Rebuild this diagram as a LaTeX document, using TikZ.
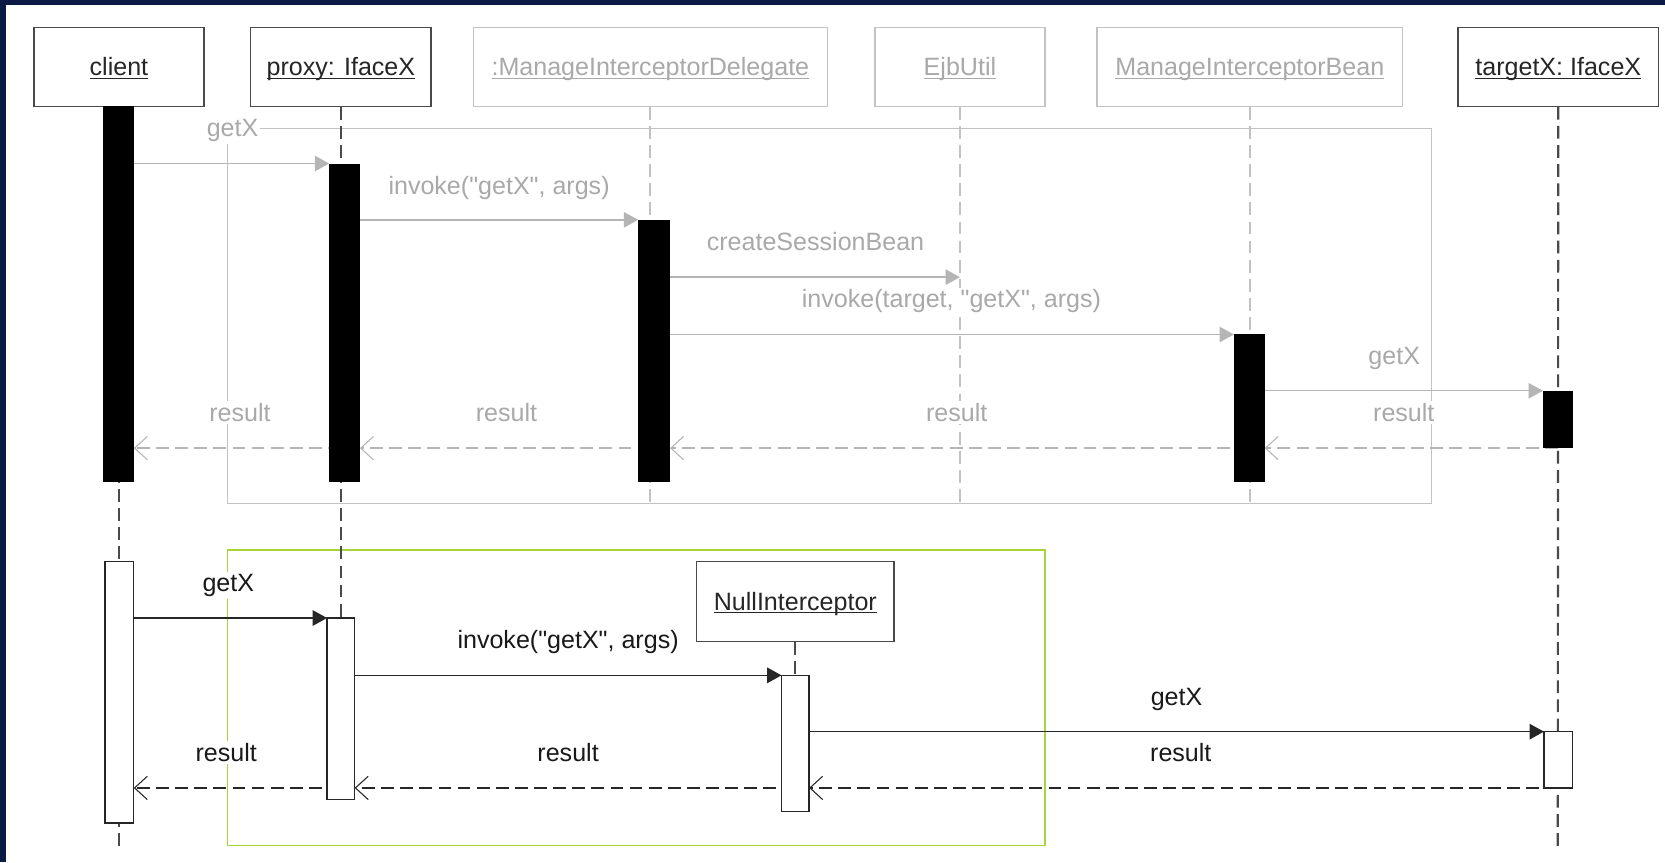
\documentclass[tikz,border=0pt]{standalone}
\usepackage{fontspec}
\setmainfont{Liberation Sans}[Ligatures=TeXOff]
\usetikzlibrary{arrows.meta}
\definecolor{navy}{HTML}{0B1A45}
\definecolor{ltgray}{HTML}{B5B5B5}
\definecolor{gtext}{HTML}{A9A9A9}
\definecolor{gbox}{HTML}{C2C2C2}
\definecolor{dkgray}{HTML}{4A4A4A}
\definecolor{limeline}{HTML}{A8D43A}
\newcommand{\ulbl}[1]{\setbox0=\hbox{#1}\rlap{\rule[-3.2pt]{\wd0}{1.2pt}}\box0}
\pgfdeclarelayer{bg}
\pgfsetlayers{bg,main}
\begin{document}
\begin{tikzpicture}[x=1pt,y=-1pt,font=\fontsize{23.6}{28}\selectfont,
  objbox/.style={draw=dkgray,line width=1.3pt,fill=white,inner sep=0pt,minimum height=74pt,text height=18pt,text depth=2pt,text=black!85},
  gobjbox/.style={objbox,draw=gbox,text=gtext},
  life/.style={draw=dkgray,line width=2pt,dash pattern=on 12pt off 6pt},
  glife/.style={life,draw=gbox},
  abar/.style={fill=black,inner sep=0pt,outer sep=0pt,anchor=north west},
  wbar/.style={draw=black!85,line width=1.3pt,fill=white,inner sep=0pt,outer sep=0pt,anchor=north west},
  gmsg/.style={draw=ltgray,line width=1.3pt,-{Triangle[length=13.5pt,width=14.5pt]}},
  gret/.style={draw=ltgray,line width=2.2pt,dash pattern=on 12pt off 6pt,-{Straight Barb[length=12pt,width=22pt,line width=1pt]}},
  bmsg/.style={draw=black!85,line width=1.5pt,-{Triangle[length=13.5pt,width=14.5pt]}},
  bret/.style={draw=black!85,line width=2pt,dash pattern=on 12pt off 6pt,-{Straight Barb[length=12pt,width=22pt,line width=1pt]}},
  glbl/.style={fill=white,inner sep=2pt,text=gtext,anchor=base},
  blbl/.style={glbl,text=black!90}]
\useasboundingbox (0,0) rectangle (1568,812);

% header objects
\node[objbox,minimum width=160pt] (client) at (112,63) {\ulbl{client}};
\node[objbox,minimum width=170pt] (proxy) at (321,63) {\ulbl{proxy: IfaceX}};
\node[gobjbox,minimum width=333pt] (deleg) at (612.5,63) {\ulbl{:ManageInterceptorDelegate}};
\node[gobjbox,minimum width=160pt] (ejb) at (904,63) {\ulbl{EjbUtil}};
\node[gobjbox,minimum width=288pt] (bean) at (1177,63) {\ulbl{ManageInterceptorBean}};
\node[objbox,minimum width=189pt] (target) at (1467.5,63) {\ulbl{targetX: IfaceX}};
\node[objbox,minimum width=186pt,minimum height=75pt] (null) at (749,566.5) {\ulbl{NullInterceptor}};

% activation bars, upper scenario
\node[abar,minimum width=29pt,minimum height=354pt] (cbar) at (97,100) {};
\node[abar,minimum width=29pt,minimum height=300pt] (pbar) at (310,154) {};
\node[abar,minimum width=30pt,minimum height=247pt] (dbar) at (601,207) {};
\node[abar,minimum width=29pt,minimum height=139pt] (bbar) at (1162,315) {};
\node[abar,minimum width=28pt,minimum height=54pt] (tbar) at (1453,368) {};

% activation bars, lower scenario
\node[wbar,minimum width=27pt,minimum height=246pt] (cwb) at (99,529) {};
\node[wbar,minimum width=26pt,minimum height=171pt] (pwb) at (308,582) {};
\node[wbar,minimum width=26pt,minimum height=128pt] (nwb) at (736,636) {};
\node[wbar,minimum width=27pt,minimum height=53pt] (twb) at (1454,689) {};

\coordinate (cend) at (112,797);
\coordinate (tend) at (1467,800);

\begin{pgfonlayer}{bg}
  \fill[white] (0,0) rectangle (1568,812);
  \fill[navy] (0,0) rectangle (6,812);
  \fill[navy] (0,0) rectangle (1568,5);
  % frames
  \draw[gbox,line width=1.2pt] (214,121) rectangle (1348,474);
  \draw[limeline,line width=1.2pt] (214,518) rectangle (984,796);
  % lifelines
  \draw[life] (client.south) -- (cend);
  \draw[life] (proxy.south) -- (pwb.south);
  \draw[glife] (deleg.south) -- (deleg.south |- 0,474);
  \draw[glife] (ejb.south) -- (ejb.south |- 0,474);
  \draw[glife] (bean.south) -- (bean.south |- 0,474);
  \draw[life] (target.south) -- (tend);
  \draw[life] (null.south) -- (nwb.north);
  % upper messages
  \draw[gmsg] (cbar.east |- pbar.north) -- (pbar.north west);
  \draw[gmsg] (pbar.east |- dbar.north) -- (dbar.north west);
  \draw[gmsg] (dbar.east |- 0,261) -- (ejb.south |- 0,261);
  \draw[gmsg] (dbar.east |- bbar.north) -- (bbar.north west);
  \draw[gmsg] (bbar.east |- tbar.north) -- (tbar.north west);
  \draw[gret] (tbar.south) -- (bbar.east |- tbar.south);
  \draw[gret] (bbar.center |- tbar.south) -- (dbar.east |- tbar.south);
  \draw[gret] (deleg.south |- tbar.south) -- (pbar.east |- tbar.south);
  \draw[gret] (proxy.south |- tbar.south) -- (cbar.east |- tbar.south);
  % lower messages
  \draw[bmsg] (cwb.east |- pwb.north) -- (pwb.north west);
  \draw[bmsg] (pwb.east |- nwb.north) -- (nwb.north west);
  \draw[bmsg] (nwb.east |- twb.north) -- (twb.north west);
  \draw[bret] (target.south |- twb.south) -- (nwb.east |- twb.south);
  \draw[bret] (nwb.center |- twb.south) -- (pwb.east |- twb.south);
  \draw[bret] (pwb.center |- twb.south) -- (cwb.east |- twb.south);
\end{pgfonlayer}

% labels, upper
\node[glbl] (l1) at (219,129) {getX};
\node[glbl] (l2) at (470,183) {invoke("getX", args)};
\node[glbl] (l3) at (768,236) {createSessionBean};
\node[glbl] (l4) at (896,290) {invoke(target, "getX", args)};
\node[glbl] (l5) at (1313,343) {getX};
\node[glbl] (l6) at (1322,397) {result};
\node[glbl] (l7) at (901,397) {result};
\node[glbl] (l8) at (477,397) {result};
\node[glbl] (l9) at (226,397) {result};
% labels, lower
\node[blbl] (m1) at (215,557) {getX};
\node[blbl] (m2) at (535,611) {invoke("getX", args)};
\node[blbl] (m3) at (1108,664) {getX};
\node[blbl] (m4) at (1112,717) {result};
\node[blbl] (m5) at (535,717) {result};
\node[blbl] (m6) at (213,717) {result};
\end{tikzpicture}
\end{document}
